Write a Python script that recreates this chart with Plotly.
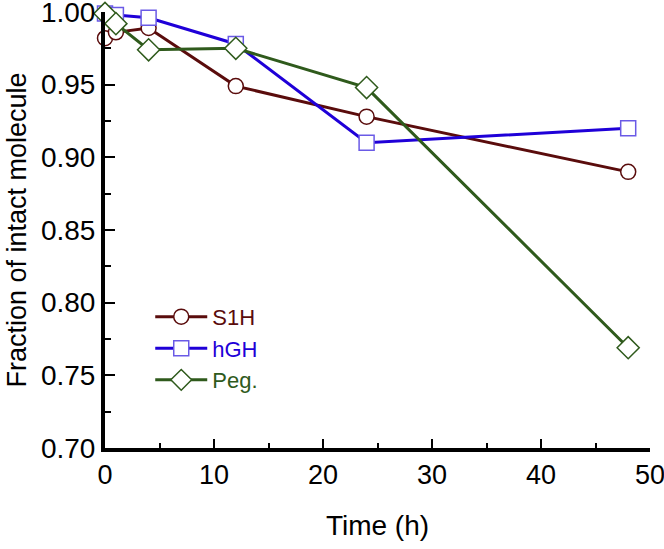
import plotly.graph_objects as go

time = [0, 1, 4, 12, 24, 48]
s1h = [0.982, 0.986, 0.989, 0.949, 0.928, 0.890]
hgh = [0.999, 0.998, 0.996, 0.978, 0.910, 0.920]
peg = [0.999, 0.992, 0.974, 0.975, 0.948, 0.769]

names = ["S1H", "hGH", "Peg."]
line_colors = ["#5a0c0c", "#1f00d8", "#2f5a1c"]
marker_edge = ["#5a0c0c", "#6a5ae6", "#2f5a1c"]
symbols = ["circle", "square", "diamond"]
sizes = [15, 15, 17]

x_ticks = [0, 10, 20, 30, 40, 50]
y_ticks = [0.70, 0.75, 0.80, 0.85, 0.90, 0.95, 1.00]
y_minor = [0.725, 0.775, 0.825, 0.875, 0.925, 0.975]

FONT = "Liberation Sans, Arial, sans-serif"

fig = go.Figure()
for name, ys, lc, me, sym, sz in zip(names, [s1h, hgh, peg], line_colors, marker_edge, symbols, sizes):
    fig.add_trace(go.Scatter(
        x=time, y=ys, mode="lines+markers",
        name=f"<span style='color:{lc}'>{name}</span>",
        line=dict(color=lc, width=3),
        marker=dict(symbol=sym, size=sz, color="white", line=dict(color=me, width=1.5)),
        cliponaxis=False,
    ))

fig.update_layout(
    width=664, height=549,
    margin=dict(l=105, r=14, t=12, b=101),
    plot_bgcolor="white", paper_bgcolor="white",
    font=dict(family=FONT, size=26, color="black"),
    showlegend=True,
    legend=dict(x=0.083, y=0.349, xanchor="left", yanchor="top",
                bgcolor="rgba(0,0,0,0)", font=dict(size=22, family=FONT),
                itemwidth=52, tracegroupgap=0),
    xaxis=dict(range=[0, 50], tickvals=x_ticks, ticktext=[str(v) for v in x_ticks],
               showgrid=False, zeroline=False, automargin=False,
               showline=True, linecolor="black", linewidth=4,
               ticks="inside", ticklen=9, tickwidth=2, tickcolor="black",
               minor=dict(ticks="inside", ticklen=5, tickwidth=2, dtick=5, tick0=0, tickcolor="black"),
               tickfont=dict(size=27), ticklabeloverflow="allow",
               title=dict(text="Time (h)", font=dict(size=28), standoff=27)),
    yaxis=dict(range=[0.70, 1.00], tickvals=y_ticks, ticktext=[f"{v:.2f}" for v in y_ticks],
               showgrid=False, zeroline=False, automargin=False,
               showline=True, linecolor="black", linewidth=4,
               ticks="inside", ticklen=10, tickwidth=2, tickcolor="black",
               minor=dict(ticks="inside", ticklen=6, tickwidth=2, tickvals=y_minor, tickcolor="black"),
               tickfont=dict(size=28), ticklabeloverflow="allow",
               title=dict(text="Fraction of intact molecule", font=dict(size=27), standoff=7)),
)

fig.write_html("out.html", config={"displayModeBar": False},
               post_script="document.body.style.margin='0';")
